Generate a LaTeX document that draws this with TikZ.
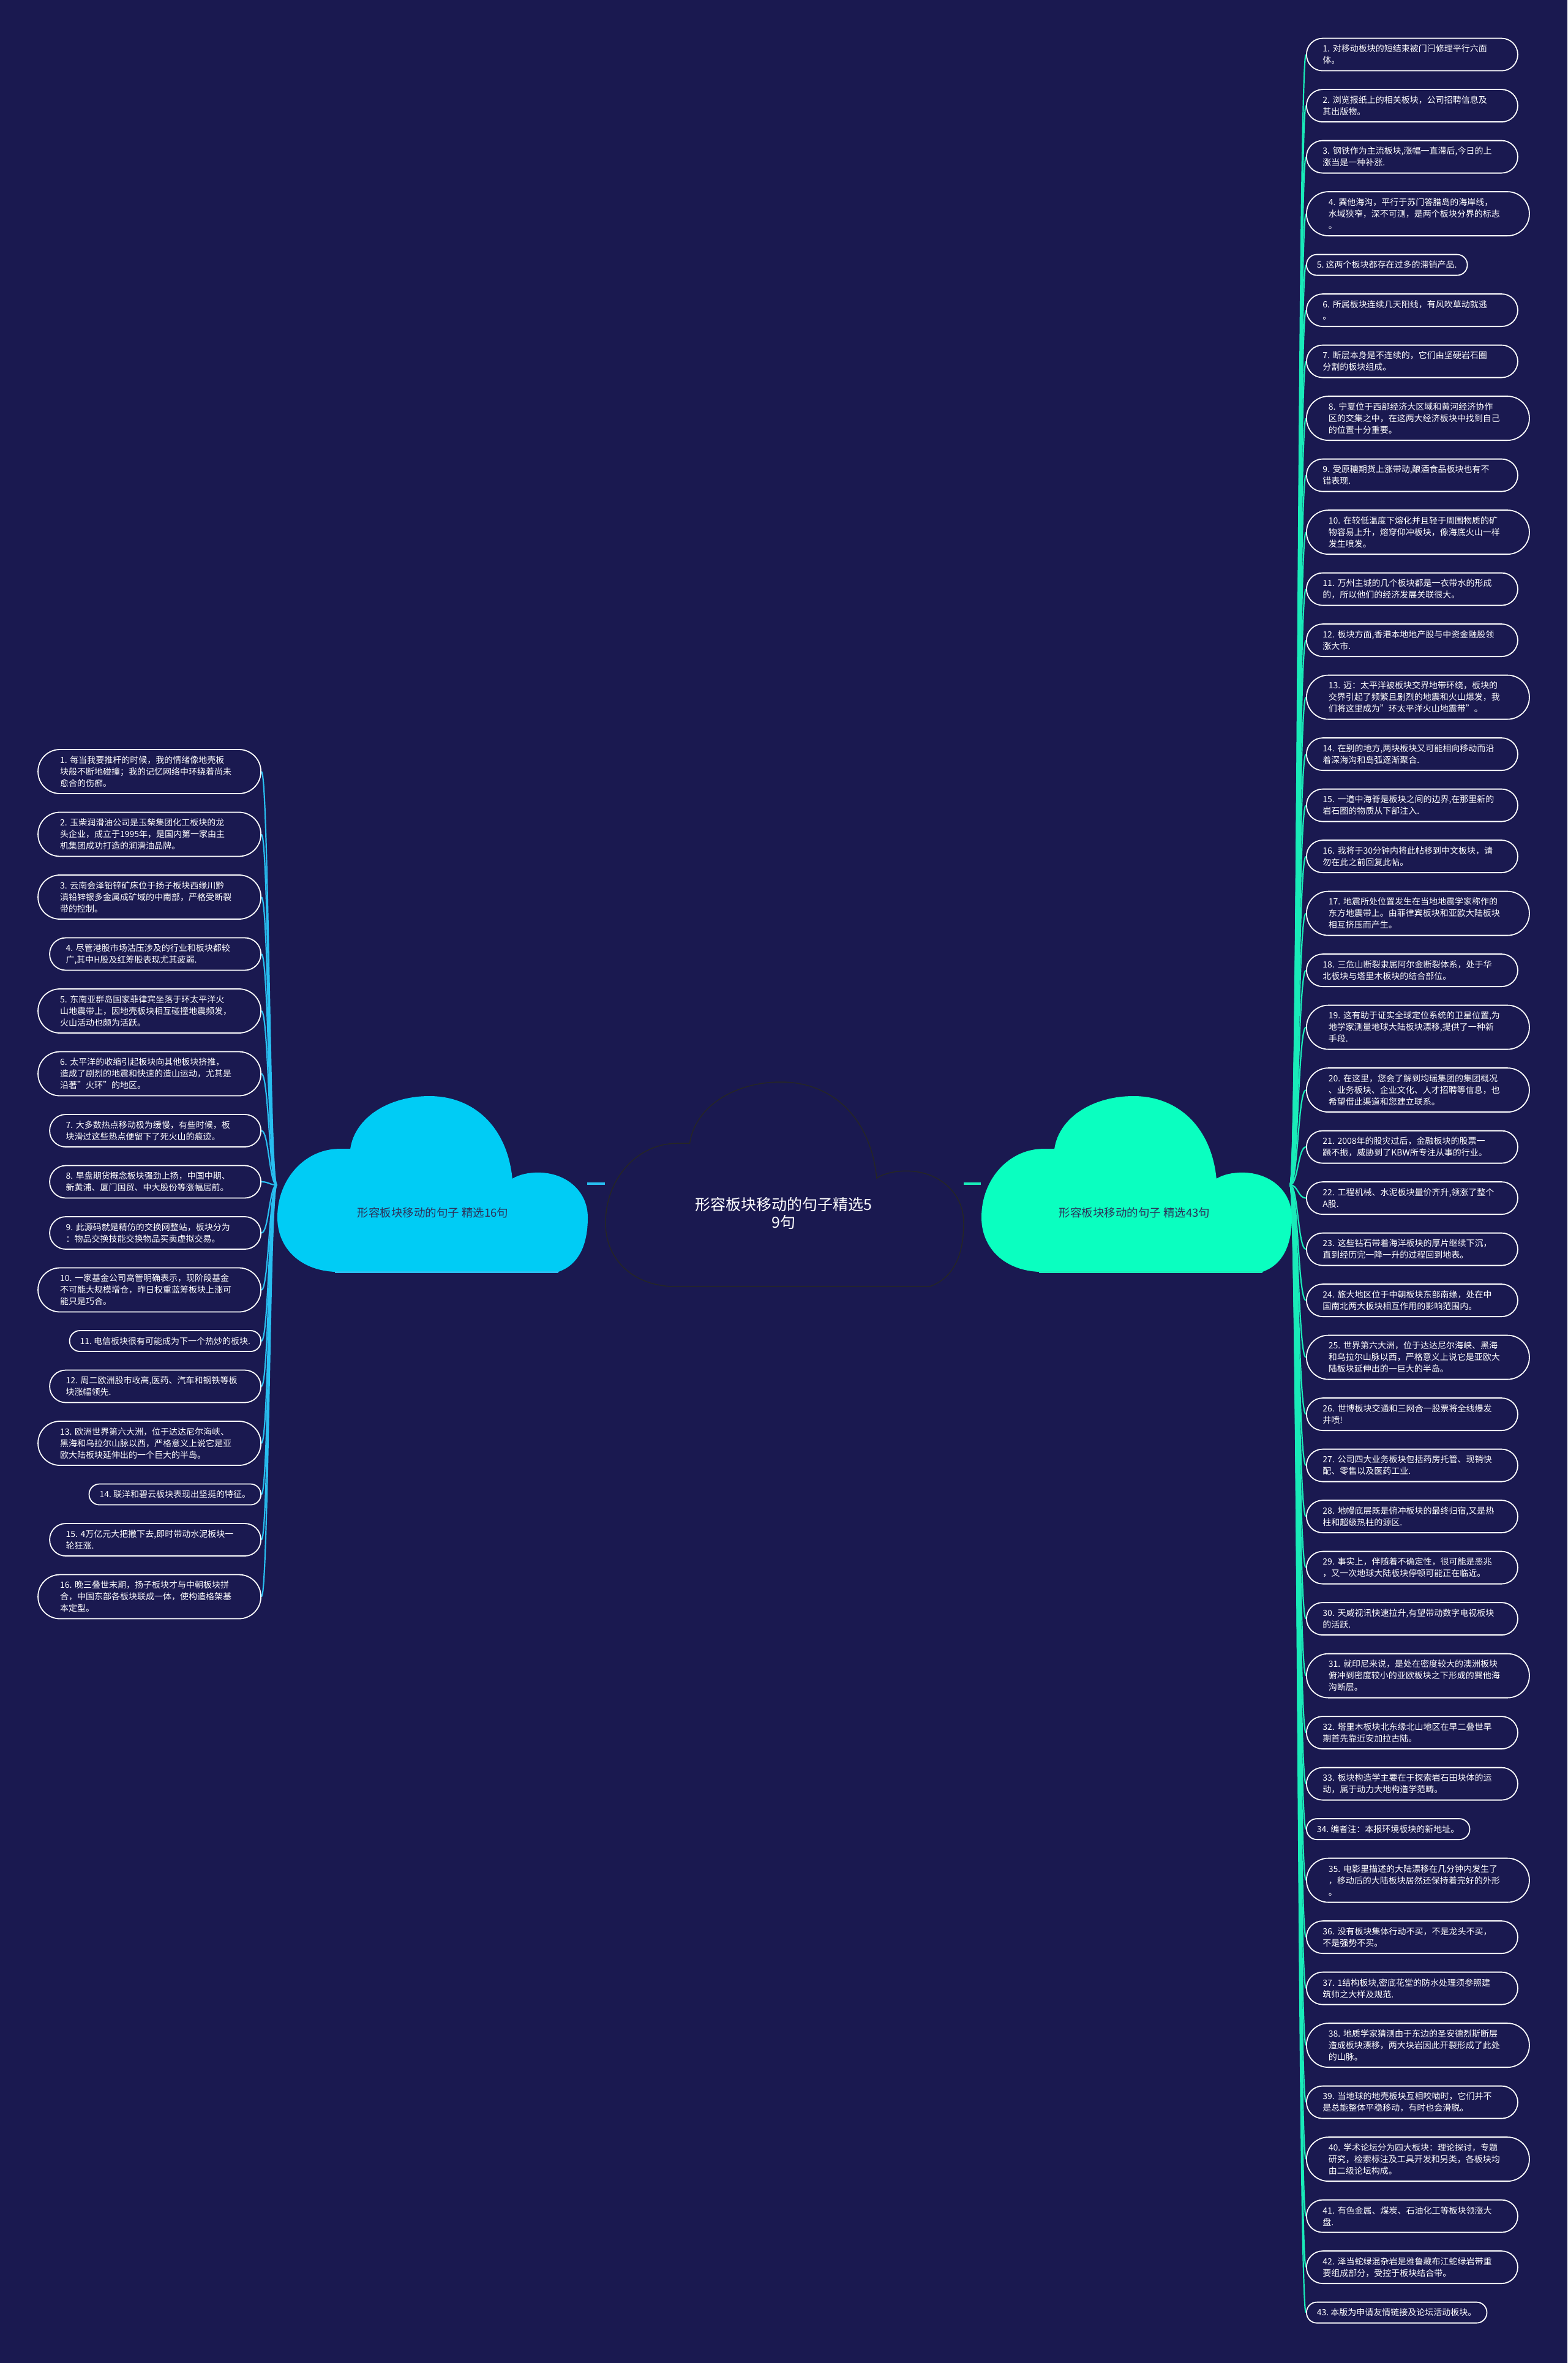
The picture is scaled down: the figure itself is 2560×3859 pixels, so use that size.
\documentclass[tikz,border=0pt]{standalone}
\usepackage{fontspec}
\setmainfont{Noto Sans CJK SC}
\definecolor{bgc}{RGB}{26,25,80}
\definecolor{lcloud}{RGB}{0,204,245}
\definecolor{rcloud}{RGB}{10,255,192}
\definecolor{lconncol}{RGB}{40,190,240}
\definecolor{rconncol}{RGB}{25,235,185}
\definecolor{ctext}{RGB}{45,50,90}
\pgfdeclarelayer{pagefill}
\pgfdeclarelayer{links}
\pgfsetlayers{pagefill,links,main}
\newcommand\mycloudpath{(0.185,1) .. controls (0.07,0.99) and (0,0.86) .. (0,0.69) .. controls (0,0.47) and (0.09,0.30) .. (0.2,0.30) -- (0.235,0.30) .. controls (0.25,0.12) and (0.36,0) .. (0.49,0) .. controls (0.63,0) and (0.74,0.17) .. (0.757,0.47) .. controls (0.78,0.445) and (0.81,0.435) .. (0.84,0.435) .. controls (0.93,0.435) and (1,0.54) .. (1,0.69) .. controls (1,0.85) and (0.97,0.96) .. (0.905,1) -- cycle}
\tikzset{
  leaf/.style={shape=rectangle, draw=white, line width=1.8pt, fill=bgc, text=white,
    inner ysep=0pt, font=\fontsize{14}{19}\selectfont, align=left},
  leafone/.style={leaf, minimum height=34pt, inner xsep=17pt, rounded corners=16.8pt},
  leaftwo/.style={leaf, text width=292pt, minimum height=53pt, inner xsep=26.5pt, rounded corners=26.3pt},
  leafthree/.style={leaf, text width=292pt, minimum height=72pt, inner xsep=36pt, rounded corners=35.8pt},
  rconn/.style={draw=rconncol, line width=2.2pt},
  lconn/.style={draw=lconncol, line width=2.2pt},
}
\begin{document}
\begin{tikzpicture}[x=1pt,y=-1pt]
\begin{pgfonlayer}{pagefill}
\fill[bgc] (0,0) rectangle (2560,3859);
\end{pgfonlayer}
\useasboundingbox (0,0) rectangle (2560,3859);

% clouds
\begin{scope}[shift={(453,1790)},xscale=507,yscale=287]
  \fill[lcloud] \mycloudpath;
  \draw[lconncol,line width=3pt] (0.185,1) -- (0.905,1);
\end{scope}
\begin{scope}[shift={(1603,1790)},xscale=507,yscale=287]
  \fill[rcloud] \mycloudpath;
  \draw[rconncol,line width=3pt] (0.185,1) -- (0.905,1);
\end{scope}
\begin{scope}[shift={(989,1767)},xscale=585,yscale=334]
  \filldraw[fill=bgc,draw=black!85,line width=1.5pt] \mycloudpath;
\end{scope}

\node[text=white,font=\fontsize{25}{29}\selectfont,align=center] (root) at (1280,1981) {形容板块移动的句子精选5\\9句};
\node[text=ctext,font=\fontsize{18.5}{21}\selectfont] (lbranch) at (707,1980) {形容板块移动的句子 精选16句};
\node[text=ctext,font=\fontsize{18.5}{21}\selectfont] (rbranch) at (1853,1980) {形容板块移动的句子 精选43句};

\coordinate (lbE) at (959,1933);
\coordinate (rootW) at (988,1933);
\coordinate (rootE) at (1574,1933);
\coordinate (rbW) at (1602,1933);
\coordinate (lo) at (452,1935);
\coordinate (ro) at (2107,1935);
\draw[lconn,line width=4pt] (lbE) -- (rootW);
\draw[rconn,line width=4pt] (rootE) -- (rbW);

% right items
\node[leaftwo,anchor=west] (r1) at (2133,89.1) {1.~对移动板块的短结束被门闩修理平行六面\\体。};
\node[leaftwo,anchor=west] (r2) at (2133,172.6) {2.~浏览报纸上的相关板块，公司招聘信息及\\其出版物。};
\node[leaftwo,anchor=west] (r3) at (2133,256.1) {3.~钢铁作为主流板块,涨幅一直滞后,今日的上\\涨当是一种补涨.};
\node[leafthree,anchor=west] (r4) at (2133,349.1) {4.~巽他海沟，平行于苏门答腊岛的海岸线，\\水域狭窄，深不可测，是两个板块分界的标志\\。};
\node[leafone,anchor=west] (r5) at (2133,432.6) {5.~这两个板块都存在过多的滞销产品.};
\node[leaftwo,anchor=west] (r6) at (2133,506.6) {6.~所属板块连续几天阳线，有风吹草动就逃\\。};
\node[leaftwo,anchor=west] (r7) at (2133,590.1) {7.~断层本身是不连续的，它们由坚硬岩石圈\\分割的板块组成。};
\node[leafthree,anchor=west] (r8) at (2133,683.1) {8.~宁夏位于西部经济大区域和黄河经济协作\\区的交集之中，在这两大经济板块中找到自己\\的位置十分重要。};
\node[leaftwo,anchor=west] (r9) at (2133,776.1) {9.~受原糖期货上涨带动,酿酒食品板块也有不\\错表现.};
\node[leafthree,anchor=west] (r10) at (2133,869.1) {10.~在较低温度下熔化并且轻于周围物质的矿\\物容易上升，熔穿仰冲板块，像海底火山一样\\发生喷发。};
\node[leaftwo,anchor=west] (r11) at (2133,962.1) {11.~万州主城的几个板块都是一衣带水的形成\\的，所以他们的经济发展关联很大。};
\node[leaftwo,anchor=west] (r12) at (2133,1045.6) {12.~板块方面,香港本地地产股与中资金融股领\\涨大市.};
\node[leafthree,anchor=west] (r13) at (2133,1138.6) {13.~迈：太平洋被板块交界地带环绕，板块的\\交界引起了频繁且剧烈的地震和火山爆发，我\\们将这里成为"环太平洋火山地震带"。};
\node[leaftwo,anchor=west] (r14) at (2133,1231.6) {14.~在别的地方,两块板块又可能相向移动而沿\\着深海沟和岛弧逐渐聚合.};
\node[leaftwo,anchor=west] (r15) at (2133,1315.1) {15.~一道中海脊是板块之间的边界,在那里新的\\岩石圈的物质从下部注入.};
\node[leaftwo,anchor=west] (r16) at (2133,1398.6) {16.~我将于30分钟内将此帖移到中文板块，请\\勿在此之前回复此帖。};
\node[leafthree,anchor=west] (r17) at (2133,1491.6) {17.~地震所处位置发生在当地地震学家称作的\\东方地震带上。由菲律宾板块和亚欧大陆板块\\相互挤压而产生。};
\node[leaftwo,anchor=west] (r18) at (2133,1584.6) {18.~三危山断裂隶属阿尔金断裂体系，处于华\\北板块与塔里木板块的结合部位。};
\node[leafthree,anchor=west] (r19) at (2133,1677.6) {19.~这有助于证实全球定位系统的卫星位置,为\\地学家测量地球大陆板块漂移,提供了一种新\\手段.};
\node[leafthree,anchor=west] (r20) at (2133,1780.1) {20.~在这里，您会了解到均瑶集团的集团概况\\、业务板块、企业文化、人才招聘等信息，也\\希望借此渠道和您建立联系。};
\node[leaftwo,anchor=west] (r21) at (2133,1873.1) {21.~2008年的股灾过后，金融板块的股票一\\蹶不振，威胁到了KBW所专注从事的行业。};
\node[leaftwo,anchor=west] (r22) at (2133,1956.6) {22.~工程机械、水泥板块量价齐升,领涨了整个\\A股.};
\node[leaftwo,anchor=west] (r23) at (2133,2040.1) {23.~这些钻石带着海洋板块的厚片继续下沉，\\直到经历完一降一升的过程回到地表。};
\node[leaftwo,anchor=west] (r24) at (2133,2123.6) {24.~旅大地区位于中朝板块东部南缘，处在中\\国南北两大板块相互作用的影响范围内。};
\node[leafthree,anchor=west] (r25) at (2133,2216.6) {25.~世界第六大洲，位于达达尼尔海峡、黑海\\和乌拉尔山脉以西，严格意义上说它是亚欧大\\陆板块延伸出的一巨大的半岛。};
\node[leaftwo,anchor=west] (r26) at (2133,2309.6) {26.~世博板块交通和三网合一股票将全线爆发\\井喷!};
\node[leaftwo,anchor=west] (r27) at (2133,2393.1) {27.~公司四大业务板块包括药房托管、现销快\\配、零售以及医药工业.};
\node[leaftwo,anchor=west] (r28) at (2133,2476.6) {28.~地幔底层既是俯冲板块的最终归宿,又是热\\柱和超级热柱的源区.};
\node[leaftwo,anchor=west] (r29) at (2133,2560.1) {29.~事实上，伴随着不确定性，很可能是恶兆\\，又一次地球大陆板块停顿可能正在临近。};
\node[leaftwo,anchor=west] (r30) at (2133,2643.6) {30.~天威视讯快速拉升,有望带动数字电视板块\\的活跃.};
\node[leafthree,anchor=west] (r31) at (2133,2736.6) {31.~就印尼来说，是处在密度较大的澳洲板块\\俯冲到密度较小的亚欧板块之下形成的巽他海\\沟断层。};
\node[leaftwo,anchor=west] (r32) at (2133,2829.6) {32.~塔里木板块北东缘北山地区在早二叠世早\\期首先靠近安加拉古陆。};
\node[leaftwo,anchor=west] (r33) at (2133,2913.1) {33.~板块构造学主要在于探索岩石田块体的运\\动，属于动力大地构造学范畴。};
\node[leafone,anchor=west] (r34) at (2133,2987.1) {34.~编者注：本报环境板块的新地址。};
\node[leafthree,anchor=west] (r35) at (2133,3070.6) {35.~电影里描述的大陆漂移在几分钟内发生了\\，移动后的大陆板块居然还保持着完好的外形\\。};
\node[leaftwo,anchor=west] (r36) at (2133,3163.6) {36.~没有板块集体行动不买，不是龙头不买，\\不是强势不买。};
\node[leaftwo,anchor=west] (r37) at (2133,3247.1) {37.~1结构板块,密底花堂的防水处理须参照建\\筑师之大样及规范.};
\node[leafthree,anchor=west] (r38) at (2133,3340.1) {38.~地质学家猜测由于东边的圣安德烈斯断层\\造成板块漂移，两大块岩因此开裂形成了此处\\的山脉。};
\node[leaftwo,anchor=west] (r39) at (2133,3433.1) {39.~当地球的地壳板块互相咬啮时，它们并不\\是总能整体平稳移动，有时也会滑脱。};
\node[leafthree,anchor=west] (r40) at (2133,3526.1) {40.~学术论坛分为四大板块：理论探讨，专题\\研究，检索标注及工具开发和另类，各板块均\\由二级论坛构成。};
\node[leaftwo,anchor=west] (r41) at (2133,3619.1) {41.~有色金属、煤炭、石油化工等板块领涨大\\盘.};
\node[leaftwo,anchor=west] (r42) at (2133,3702.6) {42.~泽当蛇绿混杂岩是雅鲁藏布江蛇绿岩带重\\要组成部分，受控于板块结合带。};
\node[leafone,anchor=west] (r43) at (2133,3776.6) {43.~本版为申请友情链接及论坛活动板块。};

% left items
\node[leafthree,anchor=east] (l1) at (427,1260) {1.~每当我要推杆的时候，我的情绪像地壳板\\块般不断地碰撞；我的记忆网络中环绕着尚未\\愈合的伤痂。};
\node[leafthree,anchor=east] (l2) at (427,1362.5) {2.~玉柴润滑油公司是玉柴集团化工板块的龙\\头企业，成立于1995年，是国内第一家由主\\机集团成功打造的润滑油品牌。};
\node[leafthree,anchor=east] (l3) at (427,1465) {3.~云南会泽铅锌矿床位于扬子板块西缘川黔\\滇铅锌银多金属成矿域的中南部，严格受断裂\\带的控制。};
\node[leaftwo,anchor=east] (l4) at (427,1558) {4.~尽管港股市场沽压涉及的行业和板块都较\\广,其中H股及红筹股表现尤其疲弱.};
\node[leafthree,anchor=east] (l5) at (427,1651) {5.~东南亚群岛国家菲律宾坐落于环太平洋火\\山地震带上，因地壳板块相互碰撞地震频发，\\火山活动也颇为活跃。};
\node[leafthree,anchor=east] (l6) at (427,1753.5) {6.~太平洋的收缩引起板块向其他板块挤推，\\造成了剧烈的地震和快速的造山运动，尤其是\\沿著"火环"的地区。};
\node[leaftwo,anchor=east] (l7) at (427,1846.5) {7.~大多数热点移动极为缓慢，有些时候，板\\块滑过这些热点便留下了死火山的痕迹。};
\node[leaftwo,anchor=east] (l8) at (427,1930) {8.~早盘期货概念板块强劲上扬，中国中期、\\新黄浦、厦门国贸、中大股份等涨幅居前。};
\node[leaftwo,anchor=east] (l9) at (427,2013.5) {9.~此源码就是精仿的交换网整站，板块分为\\：物品交换技能交换物品买卖虚拟交易。};
\node[leafthree,anchor=east] (l10) at (427,2106.5) {10.~一家基金公司高管明确表示，现阶段基金\\不可能大规模增仓，昨日权重蓝筹板块上涨可\\能只是巧合。};
\node[leafone,anchor=east] (l11) at (427,2190) {11.~电信板块很有可能成为下一个热炒的板块.};
\node[leaftwo,anchor=east] (l12) at (427,2264) {12.~周二欧洲股市收高,医药、汽车和钢铁等板\\块涨幅领先.};
\node[leafthree,anchor=east] (l13) at (427,2357) {13.~欧洲世界第六大洲，位于达达尼尔海峡、\\黑海和乌拉尔山脉以西，严格意义上说它是亚\\欧大陆板块延伸出的一个巨大的半岛。};
\node[leafone,anchor=east] (l14) at (427,2440.5) {14.~联洋和碧云板块表现出坚挺的特征。};
\node[leaftwo,anchor=east] (l15) at (427,2514.5) {15.~4万亿元大把撒下去,即时带动水泥板块一\\轮狂涨.};
\node[leafthree,anchor=east] (l16) at (427,2607.5) {16.~晚三叠世末期，扬子板块才与中朝板块拼\\合，中国东部各板块联成一体，使构造格架基\\本定型。};

% connectors
\begin{pgfonlayer}{links}
\foreach \i in {1,...,43} {
  \draw[rconn] (ro) .. controls +(13,0) and +(-13,0) .. (r\i.west);
}
\foreach \i in {1,...,16} {
  \draw[lconn] (lo) .. controls +(-12,0) and +(12,0) .. (l\i.east);
}
\end{pgfonlayer}
\end{tikzpicture}
\end{document}
